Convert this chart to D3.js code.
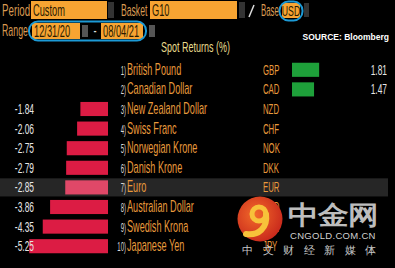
<!DOCTYPE html>
<html>
<head>
<meta charset="utf-8">
<script src="https://cdn.jsdelivr.net/npm/d3@7"></script>
<style>
  html, body { margin: 0; padding: 0; background: #000; }
  svg { display: block; }
  text { font-family: "Liberation Sans", "Arimo", sans-serif; }
</style>
</head>
<body>
<div id="chart"></div>
<script>
// data
const currencies = ["British Pound", "Canadian Dollar", "New Zealand Dollar", "Swiss Franc", "Norwegian Krone",
	"Danish Krone", "Euro", "Australian Dollar", "Swedish Krona", "Japanese Yen"];
const codes = ["GBP", "CAD", "NZD", "CHF", "NOK", "DKK", "EUR", "AUD", "SEK", "JPY"];
const returns = [1.81, 1.47, -1.84, -2.06, -2.75, -2.79, -2.85, -3.86, -4.35, -5.25];
const highlighted = "EUR";
const title = "Spot Returns (%)";
const source = "SOURCE: Bloomberg";
const period = "Custom", basket = "G10", base = "USD";
const rangeStart = "12/31/20", rangeEnd = "08/04/21";

const width = 395, height = 268;
const squeeze = 0.58; // bloomberg font is very condensed

const svg = d3.select("#chart").append("svg")
	.attr("width", width)
	.attr("height", height);

svg.append("rect").attr("width", width).attr("height", height).attr("fill", "#000");

function label(g, x, y, str, o) {
	o = o || {};
	return g.append("text")
		.attr("transform", `translate(${x},${y}) scale(${o.k || squeeze},1)`)
		.attr("text-anchor", o.anchor || "start")
		.attr("font-size", o.size || 15)
		.attr("font-weight", o.weight || "normal")
		.attr("fill", o.fill || "#e89a3c")
		.text(str);
}

let rows = codes.map((c, i) => ({code: c, name: currencies[i], value: returns[i], rank: i + 1}));

let y = d3.scaleBand().domain(codes).range([60, 256]).paddingInner(0.28).paddingOuter(0.14);
let xNeg = d3.scaleLinear().domain([-6, 0]).range([18, 108]);
let xPos = d3.scaleLinear().domain([0, 6]).range([292, 382]);

// highlighted row band
svg.append("rect")
	.attr("x", 0).attr("width", 388)
	.attr("y", y(highlighted) - 2).attr("height", y.bandwidth() + 4)
	.attr("fill", "#262626");

// ---- top controls ----
let controls = svg.append("g");
let dark = "#2a1a00", tan = "#d89a52";
label(controls, 2, 16, "Period", {fill: tan, size: 16, k: 0.61});
controls.append("rect").attr("x", 31).attr("y", 1).attr("width", 76).attr("height", 18).attr("fill", "#f7a432");
label(controls, 33, 16, period, {fill: dark, size: 16});
controls.append("rect").attr("x", 108).attr("y", 2).attr("width", 6).attr("height", 16).attr("fill", "#333");
label(controls, 121, 16, "Basket", {fill: tan, size: 16, k: 0.54});
controls.append("rect").attr("x", 150).attr("y", 1).attr("width", 87).attr("height", 18).attr("fill", "#f7a432");
label(controls, 152, 16, basket, {fill: dark, size: 16});
controls.append("rect").attr("x", 239).attr("y", 2).attr("width", 6).attr("height", 16).attr("fill", "#333");
controls.append("line").attr("x1", 249).attr("y1", 17).attr("x2", 254).attr("y2", 5)
	.attr("stroke", "#ddd").attr("stroke-width", 1.5);
label(controls, 261, 16, "Base", {fill: tan, size: 16, k: 0.49});
controls.append("rect").attr("x", 282).attr("y", 3).attr("width", 18).attr("height", 15).attr("rx", 2).attr("fill", "#f7a432");
label(controls, 291, 16, base, {fill: dark, size: 15, anchor: "middle"});
controls.append("rect").attr("x", 279.5).attr("y", 1.5).attr("width", 23).attr("height", 19).attr("rx", 9)
	.attr("fill", "none").attr("stroke", "#1c9ad6").attr("stroke-width", 2);
controls.append("rect").attr("x", 304).attr("y", 3).attr("width", 5).attr("height", 14).attr("fill", "#333");

label(controls, 2, 36, "Range", {fill: tan, size: 16, k: 0.55});
controls.append("rect").attr("x", 32).attr("y", 23).attr("width", 48).attr("height", 16).attr("fill", "#f7a432");
label(controls, 34, 37, rangeStart, {fill: dark, size: 16});
controls.append("rect").attr("x", 82).attr("y", 25).attr("width", 6).attr("height", 12).attr("fill", "#555");
label(controls, 95, 36, "-", {fill: "#ddd", size: 16, anchor: "middle"});
controls.append("rect").attr("x", 101).attr("y", 23).attr("width", 42).attr("height", 16).attr("fill", "#f7a432");
label(controls, 103, 37, rangeEnd, {fill: dark, size: 16});
controls.append("rect").attr("x", 149).attr("y", 25).attr("width", 6).attr("height", 12).attr("fill", "#555");
controls.append("rect").attr("x", 29).attr("y", 21.5).attr("width", 117).attr("height", 19).attr("rx", 9)
	.attr("fill", "none").attr("stroke", "#1c9ad6").attr("stroke-width", 2);

svg.append("text")
	.attr("x", 389).attr("y", 40)
	.attr("text-anchor", "end")
	.attr("font-family", "'Open Sans', 'DejaVu Sans', sans-serif")
	.attr("font-size", 8.5).attr("font-weight", "bold")
	.attr("fill", "#fff")
	.text(source);

label(svg, 161, 52, title, {fill: "#e8dc8c", size: 15, k: 0.6});

// ---- bars ----
let rowG = svg.selectAll("g.row")
	.data(rows)
	.enter()
		.append("g")
		.classed("row", true);

rowG.append("rect")
	.attr("x", d => d.value < 0 ? xNeg(d.value) : xPos(0))
	.attr("y", d => y(d.code))
	.attr("height", y.bandwidth())
	.attr("width", d => d.value < 0 ? xNeg(0) - xNeg(d.value) : xPos(d.value) - xPos(0))
	.attr("fill", d => d.value < 0 ? (d.code === highlighted ? "#e04868" : "#dc1c44") : "#1ea03a");

rowG.each(function(d) {
	let g = d3.select(this);
	let cy = y(d.code) + y.bandwidth() / 2 + 5;
	if (d.value < 0)
		label(g, 34, cy, d.value.toFixed(2), {fill: "#e6e6e6", size: 15, anchor: "end", k: 0.56});
	else
		label(g, 387, cy, d.value.toFixed(2), {fill: "#e6e6e6", size: 15, anchor: "end", k: 0.56});
	label(g, 126, cy, d.rank + ")", {fill: "#d8d8d8", size: 12, anchor: "end", k: 0.5});
	label(g, 127, cy, d.name, {size: 16, k: 0.57});
	label(g, 263, cy, d.code, {size: 15, k: 0.52});
});

// ---- watermark ----
let wm = svg.append("g");
let grad = svg.append("defs").append("radialGradient").attr("id", "wmGrad")
	.attr("cx", "40%").attr("cy", "40%").attr("r", "65%");
grad.append("stop").attr("offset", "0%").attr("stop-color", "#f26a2a");
grad.append("stop").attr("offset", "100%").attr("stop-color", "#c8281c");
wm.append("circle").attr("cx", 260).attr("cy", 219).attr("r", 22.5).attr("fill", "url(#wmGrad)");
wm.append("circle").attr("cx", 259).attr("cy", 214).attr("r", 7).attr("fill", "none")
	.attr("stroke", "#f7c23a").attr("stroke-width", 5);
wm.append("path").attr("d", "M266,214 C268,228 258,236 246,234")
	.attr("fill", "none").attr("stroke", "#f7c23a").attr("stroke-width", 6).attr("stroke-linecap", "round");
wm.append("text")
	.attr("transform", "translate(288,224) scale(1,0.85)")
	.attr("font-family", "'Noto Sans CJK SC', sans-serif").attr("font-weight", "bold")
	.attr("font-size", 30).attr("fill", "#bdbdbd")
	.text("中金网");
wm.append("text")
	.attr("x", 290).attr("y", 239)
	.attr("font-family", "'Liberation Sans', sans-serif")
	.attr("font-size", 9.5).attr("letter-spacing", 0.3).attr("fill", "#d0d0d0")
	.text("CNGOLD.COM.CN");
wm.append("text")
	.attr("x", 242).attr("y", 254)
	.attr("font-family", "'Noto Sans CJK SC', sans-serif")
	.attr("font-size", 11).attr("letter-spacing", 9.5).attr("fill", "#c8c8c8")
	.text("中文财经新媒体");
</script>
</body>
</html>
